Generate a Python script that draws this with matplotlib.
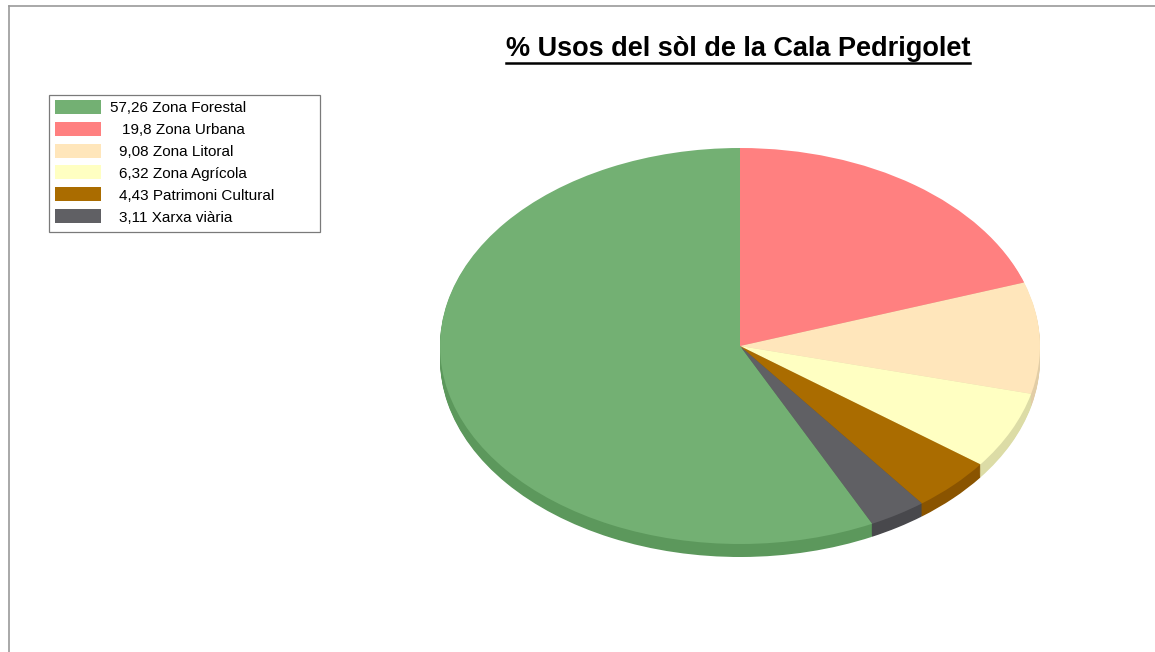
import numpy as np
import matplotlib.pyplot as plt
from matplotlib.lines import Line2D
from matplotlib.patches import Rectangle

plt.rcParams['font.family'] = ['Liberation Sans', 'DejaVu Sans']

labels = ['Zona Forestal', 'Zona Urbana', 'Zona Litoral', 'Zona Agrícola',
          'Patrimoni Cultural', 'Xarxa viària']
values = [57.26, 19.8, 9.08, 6.32, 4.43, 3.11]
value_text = ['57,26', '19,8', '9,08', '6,32', '4,43', '3,11']
colors = ['#73b073', '#ff8080', '#ffe6bb', '#ffffc2', '#aa6c00', '#606064']
side_colors = ['#5c985c', '#d86a6a', '#e2cda6', '#dcdca6', '#8a5400', '#48484c']

W, H = 1155, 652
fig = plt.figure(figsize=(W / 100, H / 100), dpi=100)

# pie centre and radii in pixels
cx, cy, rx, ry, depth = 740, 346, 300, 198, 13

ax = fig.add_axes([0, 0, 1, 1])
# clockwise from 12 o'clock: urbana ... xarxa, then forestal
order = [1, 2, 3, 4, 5, 0]
vals = [values[i] for i in order]

# side of the disc: stack of shifted pies
for d in np.linspace(depth, 1, 14):
    ax.pie(vals, colors=[side_colors[i] for i in order], startangle=90,
           counterclock=False, center=(0, -d / ry),
           wedgeprops=dict(linewidth=0, antialiased=True))
ax.pie(vals, colors=[colors[i] for i in order], startangle=90,
       counterclock=False, center=(0, 0),
       wedgeprops=dict(linewidth=0, antialiased=True))

ax.set_aspect('auto')
ax.set_xlim(-cx / rx, (W - cx) / rx)
ax.set_ylim((cy - H) / ry, cy / ry)
ax.axis('off')


def fx(px):
    return px / W


def fy(py):
    return 1 - py / H


# outer chart frame
fig.add_artist(Line2D([fx(9), fx(9)], [0, fy(6)], color='#9a9a9a', lw=1.2,
                      transform=fig.transFigure))
fig.add_artist(Line2D([fx(9), 1], [fy(6), fy(6)], color='#9a9a9a', lw=1.2,
                      transform=fig.transFigure))

# title with underline
title = fig.text(fx(738), fy(56), '% Usos del sòl de la Cala Pedrigolet',
                 ha='center', va='baseline', fontsize=19.5, fontweight='bold')
fig.canvas.draw()
bb = title.get_window_extent()
uy = fy(62.5)
fig.add_artist(Line2D([fx(bb.x0), fx(bb.x1)], [uy, uy], color='black', lw=1.8,
                      transform=fig.transFigure))

# legend box drawn by hand
fig.add_artist(Rectangle((fx(49), fy(232)), (320 - 49) / W, (232 - 95) / H,
                         transform=fig.transFigure, facecolor='white',
                         edgecolor='#7a7a7a', lw=0.9))
row0, step = 107, 21.8
text_x = [110, 122, 119, 119, 119, 119]
for i, (v, l) in enumerate(zip(value_text, labels)):
    yc = row0 + i * step
    fig.add_artist(Rectangle((fx(55), fy(yc + 7)), 46 / W, 14 / H,
                             transform=fig.transFigure, facecolor=colors[i],
                             edgecolor='none'))
    fig.text(fx(text_x[i]), fy(yc + 1.5), v + ' ' + l, ha='left', va='center',
             fontsize=11)

fig.savefig('out.png', dpi=100)
